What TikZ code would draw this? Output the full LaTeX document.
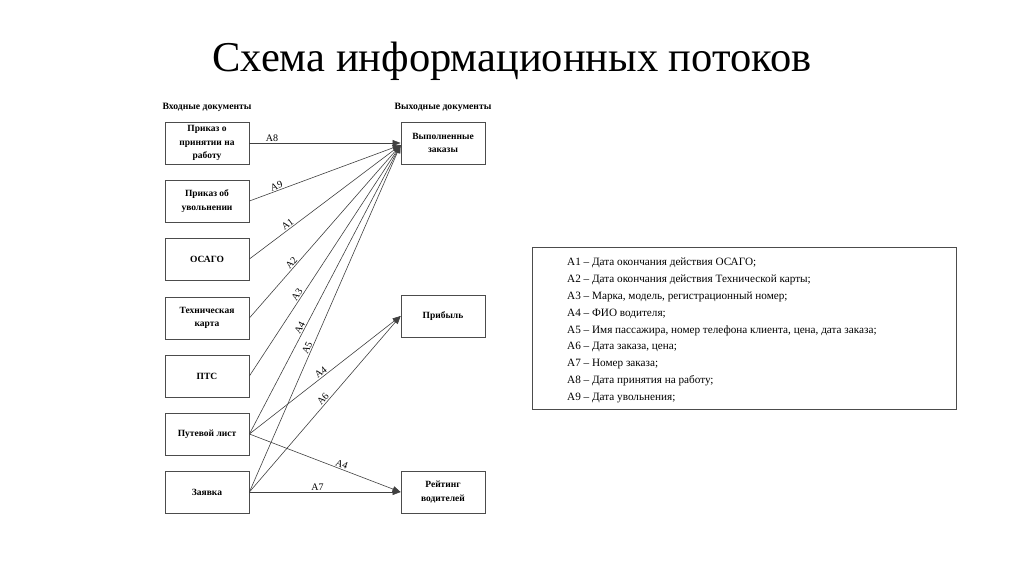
\documentclass[tikz,border=0pt]{standalone}
\usepackage{fontspec}
\setmainfont{Liberation Serif}
\usetikzlibrary{arrows.meta}
\tikzset{
  doc/.style={draw=black!70, line width=0.8pt, minimum width=84pt, minimum height=42pt, inner sep=1pt, align=center, font=\fontsize{9.5}{13.5}\selectfont\bfseries},
  flow/.style={draw=black!75, line width=0.6pt},
  flowa/.style={flow, -{Triangle[length=8pt,width=6pt]}},
  lab/.style={font=\fontsize{10}{10}\selectfont, sloped, above, inner sep=1pt},
  hdr/.style={font=\fontsize{9.7}{10}\selectfont\bfseries},
}
\begin{document}
\begin{tikzpicture}[x=1pt,y=-1pt]
\useasboundingbox (0,0) rectangle (1024,574);
\node[font=\fontsize{42.5}{42.5}\selectfont] (title) at (512,61) {Схема информационных потоков};
\node[hdr] (hin) at (207,107) {Входные документы};
\node[hdr] (hout) at (443,107) {Выходные документы};
\node[doc] (l1) at (207,143) {Приказ о\\принятии на\\работу};
\node[doc] (l2) at (207,201) {Приказ об\\увольнении};
\node[doc] (l3) at (207,259) {ОСАГО};
\node[doc] (l4) at (207,318) {Техническая\\карта};
\node[doc] (l5) at (207,376) {ПТС};
\node[doc] (l6) at (207,434) {Путевой лист};
\node[doc] (l7) at (207,492) {Заявка};
\node[doc] (r1) at (443,143) {Выполненные\\заказы};
\node[doc] (r2) at (443,316) {Прибыль};
\node[doc] (r3) at (443,492) {Рейтинг\\водителей};
\coordinate (t1) at ([yshift=-2pt]r1.west);
\draw[flowa] (l1.east) -- node[lab,pos=0.15]{A8} (r1.west);
\draw[flowa] (l2.east) -- node[lab,pos=0.19]{A9} (t1);
\draw[flowa] (l3.east) -- node[lab,pos=0.27]{A1} (t1);
\draw[flowa] (l4.east) -- node[lab,pos=0.30]{A2} (t1);
\draw[flowa] (l5.east) -- node[lab,pos=0.34]{A3} (t1);
\draw[flowa] (l6.east) -- node[lab,pos=0.36]{A4} (t1);
\draw[flowa] (l7.east) -- node[lab,pos=0.41]{A5} (t1);
\draw[flowa] (l6.east) -- node[lab,pos=0.49]{A4} (r2.west);
\draw[flowa] (l7.east) -- node[lab,pos=0.51]{A6} (r2.west);
\draw[flowa] (l6.east) -- node[lab,pos=0.6]{A4} (r3.west);
\draw[flowa] (l7.east) -- node[lab,pos=0.45]{A7} (r3.west);
\node[draw=black!70, line width=0.8pt, minimum width=424pt, minimum height=162pt, inner sep=0pt] (leg) at (744,328) {};
\node[anchor=north west, align=left, font=\fontsize{11.2}{16.8}\selectfont, inner sep=0pt] (legtext) at (567,258) {%
A1 – Дата окончания действия ОСАГО;\\
A2 – Дата окончания действия Технической карты;\\
A3 – Марка, модель, регистрационный номер;\\
A4 – ФИО водителя;\\
A5 – Имя пассажира, номер телефона клиента, цена, дата заказа;\\
A6 – Дата заказа, цена;\\
A7 – Номер заказа;\\
A8 – Дата принятия на работу;\\
A9 – Дата увольнения;};
\end{tikzpicture}
\end{document}
